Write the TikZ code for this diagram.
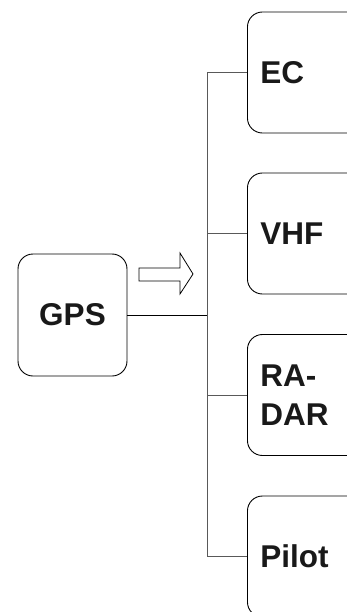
\documentclass[tikz,border=0pt]{standalone}
\usepackage{fontspec}
\setmainfont{Liberation Sans}
\begin{document}
\begin{tikzpicture}[x=1pt,y=-1pt,
  box/.style={draw=black, line width=0.9pt, rounded corners=15pt, rectangle,
    minimum height=121pt, inner sep=0pt},
  rbox/.style={box, anchor=west, minimum width=116pt, text width=90pt, inner xsep=13pt, align=left},
  lbl/.style={font=\fontsize{31.5}{39}\selectfont\bfseries, text=black!90},
  conn/.style={draw=black!65, line width=0.9pt},
  gconn/.style={draw=black, line width=0.9pt}]
\useasboundingbox (0,0) rectangle (347,612);
\node[box, minimum width=109pt, minimum height=122pt, lbl] (gps) at (72.5,315) {GPS};
\node[rbox, lbl] (ec) at (247,72.5) {EC};
\node[rbox, lbl] (vhf) at (247,233.5) {VHF};
\node[rbox, lbl] (radar) at (247,395) {RA-\\DAR};
\node[rbox, lbl] (pilot) at (247,556.5) {Pilot};
\coordinate (tx) at (207,0);
\draw[conn] (ec.west) -- (ec.west -| tx) -- (pilot.west -| tx) -- (pilot.west);
\draw[conn] (vhf.west) -- (vhf.west -| tx);
\draw[conn] (radar.west) -- (radar.west -| tx);
\draw[gconn] (gps.east) -- (gps.east -| tx);
\draw[line width=0.8pt, line join=miter] (139,268) -- (180,268) -- (180,253) -- (193,274) -- (180,294) -- (180,281) -- (139,281) -- cycle;
\end{tikzpicture}
\end{document}
